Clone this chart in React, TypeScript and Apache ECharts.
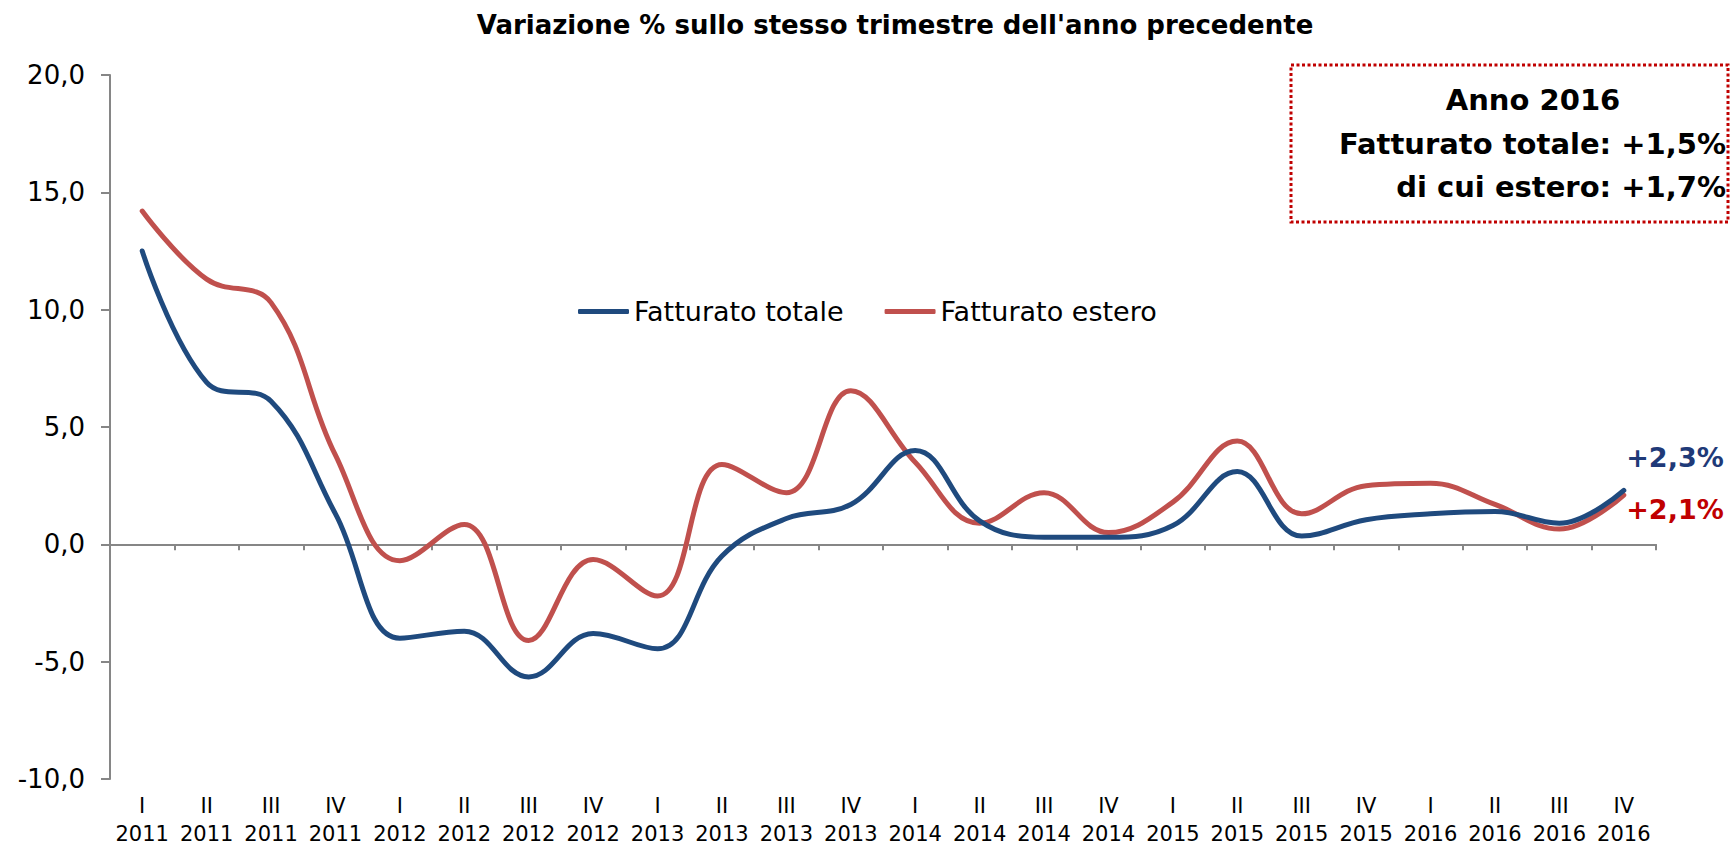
import React, { useEffect, useRef } from "react";
import * as echarts from "echarts";

const categories = [
  "I\n2011", "II\n2011", "III\n2011", "IV\n2011",
  "I\n2012", "II\n2012", "III\n2012", "IV\n2012",
  "I\n2013", "II\n2013", "III\n2013", "IV\n2013",
  "I\n2014", "II\n2014", "III\n2014", "IV\n2014",
  "I\n2015", "II\n2015", "III\n2015", "IV\n2015",
  "I\n2016", "II\n2016", "III\n2016", "IV\n2016",
];

const fatturatoTotale = [
  12.5, 6.9, 6.1, 1.3,
  -4.0, -3.7, -5.65, -3.8,
  -4.45, -0.5, 1.1, 1.7,
  4.0, 1.0, 0.3, 0.3,
  0.8, 3.1, 0.35, 1.05,
  1.3, 1.4, 0.9, 2.3,
];

const fatturatoEstero = [
  14.2, 11.3, 10.3, 3.8,
  -0.7, 0.85, -4.1, -0.65,
  -2.2, 3.4, 2.2, 6.55,
  3.5, 0.9, 2.2, 0.5,
  1.8, 4.4, 1.3, 2.5,
  2.6, 1.7, 0.65, 2.1,
];

const seriesNames = ["Fatturato totale", "Fatturato estero"];
const titleText = "Variazione % sullo stesso trimestre dell'anno precedente";
const boxLines = ["Anno 2016", "Fatturato totale: +1,5%", "di cui estero: +1,7%"];
const endLabels = ["+2,3%", "+2,1%"];

const FONT = "'DejaVu Sans', Verdana, sans-serif";

export default function App() {
  const ref = useRef<HTMLDivElement>(null);

  useEffect(() => {
    if (!ref.current) return;
    const chart = echarts.init(ref.current, null, { renderer: "svg" });
    const fmt = (v: number) => v.toFixed(1).replace(".", ",");
    chart.setOption({
      animation: false,
      backgroundColor: "#ffffff",
      textStyle: { fontFamily: FONT },
      grid: { left: 110, right: 75, top: 75, bottom: 66, containLabel: false },
      legend: {
        left: 573,
        top: 293,
        icon: "roundRect",
        itemWidth: 51,
        itemHeight: 5,
        itemGap: 41,
        textStyle: { fontFamily: FONT, fontSize: 27, color: "#000", padding: [0, 0, 0, 0] },
        data: seriesNames,
      },
      xAxis: [
        {
          type: "category",
          data: categories,
          boundaryGap: true,
          position: "bottom",
          axisLine: { show: false, onZero: false },
          axisTick: { show: false },
          axisLabel: {
            color: "#000",
            fontFamily: FONT,
            fontSize: 21,
            lineHeight: 28,
            margin: 13,
            interval: 0,
          },
          splitLine: { show: false },
        },
        {
          type: "category",
          data: categories,
          boundaryGap: true,
          position: "bottom",
          axisLine: { show: true, onZero: true, lineStyle: { color: "#868686", width: 2 } },
          axisTick: { show: true, length: 6, alignWithLabel: false, interval: 0, lineStyle: { color: "#868686", width: 2 } },
          axisLabel: { show: false },
          splitLine: { show: false },
        },
      ],
      yAxis: {
        type: "value",
        min: -10,
        max: 20,
        interval: 5,
        axisLine: { show: true, lineStyle: { color: "#868686", width: 2 } },
        axisTick: { show: true, length: 9, inside: false, lineStyle: { color: "#868686", width: 2 } },
        axisLabel: {
          color: "#000",
          fontFamily: FONT,
          fontSize: 26,
          margin: 25,
          formatter: (v: number) => fmt(v),
        },
        splitLine: { show: false },
      },
      series: [
        {
          name: seriesNames[0],
          type: "line",
          data: fatturatoTotale,
          xAxisIndex: 0,
          smooth: 0.4,
          showSymbol: false,
          symbol: "none",
          lineStyle: { color: "#1f4a7e", width: 5, cap: "round" },
          itemStyle: { color: "#1f4a7e" },
          z: 3,
        },
        {
          name: seriesNames[1],
          type: "line",
          data: fatturatoEstero,
          xAxisIndex: 0,
          smooth: 0.4,
          showSymbol: false,
          symbol: "none",
          lineStyle: { color: "#c0504d", width: 5, cap: "round" },
          itemStyle: { color: "#c0504d" },
          z: 2,
        },
      ],
      graphic: [
        {
          type: "text",
          x: 895,
          y: 25,
          style: {
            text: titleText,
            font: `bold 26px ${FONT}`,
            fill: "#000",
            align: "center",
            verticalAlign: "middle",
          },
        },
        {
          type: "rect",
          shape: { x: 1291, y: 65, width: 437, height: 157 },
          style: { fill: "none", stroke: "#c00000", lineWidth: 3, lineDash: [3, 2.5] },
        },
        {
          type: "text",
          x: 1533,
          y: 100,
          style: {
            text: boxLines[0],
            font: `bold 29px ${FONT}`,
            fill: "#000",
            align: "center",
            verticalAlign: "middle",
          },
        },
        {
          type: "text",
          x: 1726,
          y: 144,
          style: {
            text: boxLines[1],
            font: `bold 29px ${FONT}`,
            fill: "#000",
            align: "right",
            verticalAlign: "middle",
          },
        },
        {
          type: "text",
          x: 1726,
          y: 187,
          style: {
            text: boxLines[2],
            font: `bold 29px ${FONT}`,
            fill: "#000",
            align: "right",
            verticalAlign: "middle",
          },
        },
        {
          type: "text",
          x: 1675,
          y: 457,
          style: {
            text: endLabels[0],
            font: `bold 27px ${FONT}`,
            fill: "#1f3a78",
            align: "center",
            verticalAlign: "middle",
          },
        },
        {
          type: "text",
          x: 1675,
          y: 509,
          style: {
            text: endLabels[1],
            font: `bold 27px ${FONT}`,
            fill: "#c00000",
            align: "center",
            verticalAlign: "middle",
          },
        },
      ],
    });
    return () => chart.dispose();
  }, []);

  return (
    <div
      ref={ref}
      style={{ position: "fixed", left: 0, top: 0, width: 1731, height: 848, background: "#fff" }}
    />
  );
}
